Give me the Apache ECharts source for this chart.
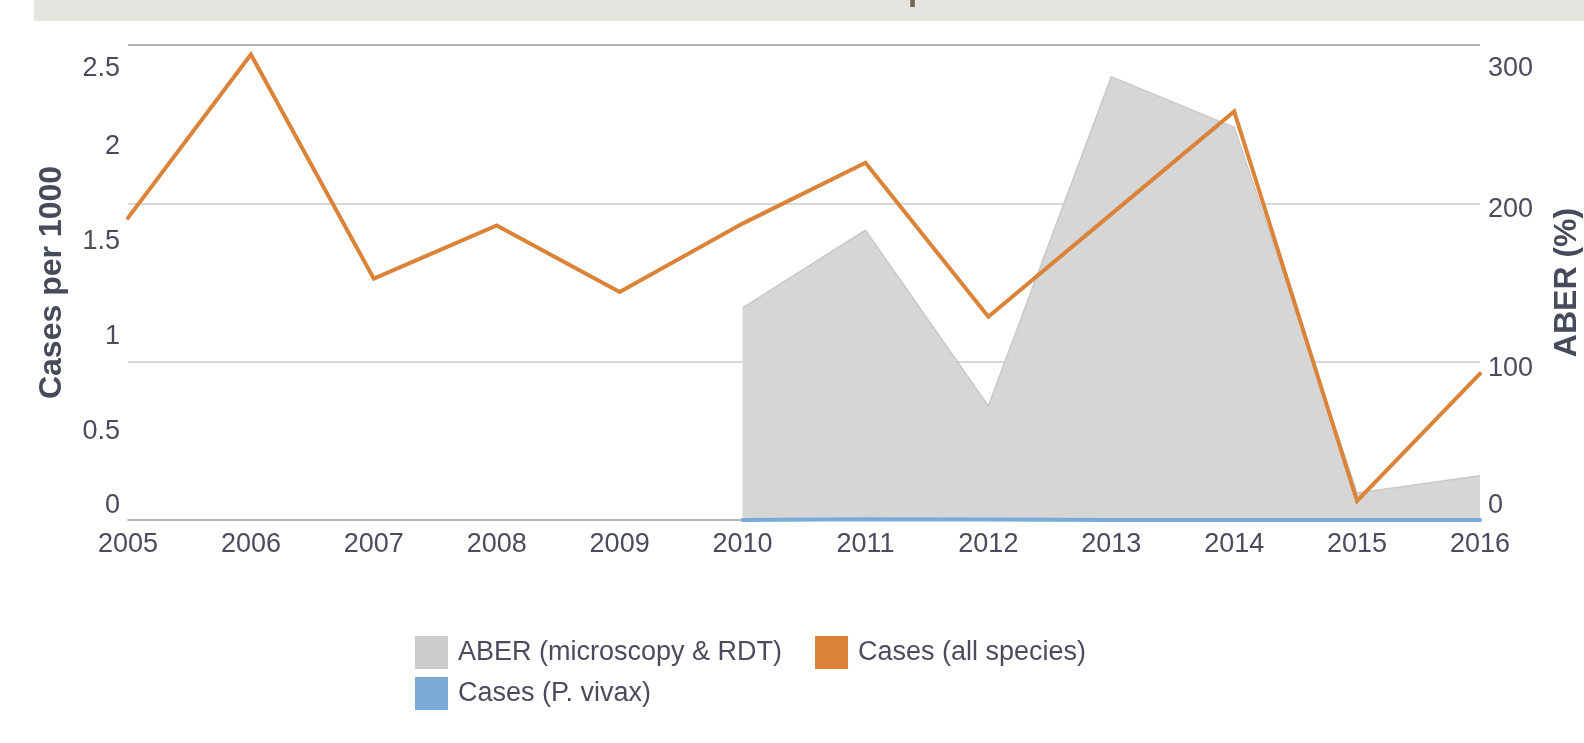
<!DOCTYPE html>
<html>
<head>
<meta charset="utf-8">
<script src="https://cdn.jsdelivr.net/npm/echarts@6/dist/echarts.min.js"></script>
<style>
  html, body { margin: 0; padding: 0; background: #fff; }
  #chart { width: 1584px; height: 743px; }
</style>
</head>
<body>
<div id="chart"></div>
<script>
// years on the x axis
var years = ['2005', '2006', '2007', '2008', '2009', '2010', '2011', '2012', '2013', '2014', '2015', '2016'];
// cases per 1000 (left axis)
var casesAll = [1.59, 2.45, 1.27, 1.55, 1.20, 1.56, 1.88, 1.07, 1.61, 2.15, 0.10, 0.77];
var casesVivax = [null, null, null, null, null, 0, 0.004, 0.002, 0, 0, 0, 0];
// ABER % (right axis)
var aber = [null, null, null, null, null, 134, 183, 72, 280, 248, 17, 28];

var TEXT = '#4a4c5e';
var FONT = '"Liberation Sans", Arial, sans-serif';

var myChart = echarts.init(document.getElementById('chart'));

// tick labels sit a little below their tick, edge labels pulled inside
function tickLabel(min, max) {
    return {
        color: TEXT,
        fontSize: 27,
        verticalAlign: 'top',
        lineHeight: 13,
        verticalAlignMinLabel: 'bottom',
        verticalAlignMaxLabel: 'top',
        formatter: function (v) {
            if (v === min) return '{lo|' + v + '}';
            if (v === max) return '{hi|' + v + '}';
            return '{mid|' + v + '}';
        },
        rich: {
            lo: { color: TEXT, fontSize: 27, lineHeight: 28 },
            mid: { color: TEXT, fontSize: 27, lineHeight: 13 },
            hi: { color: TEXT, fontSize: 27, lineHeight: 48 }
        }
    };
}

myChart.setOption({
    backgroundColor: '#ffffff',
    animation: false,
    textStyle: { fontFamily: FONT },
    graphic: [
        {
            type: 'rect',
            shape: { x: 34, y: 0, width: 1550, height: 21 },
            style: { fill: '#e4e3de' },
            z: 0
        },
        {
            type: 'text',
            x: 775,
            y: 7,
            style: {
                text: 'Confirmed malaria cases per 1000',
                fill: '#6b6b55',
                font: 'bold 33px ' + FONT,
                textAlign: 'center',
                textVerticalAlign: 'bottom'
            },
            z: 1
        }
    ],
    grid: {
        left: 128,
        right: 104,
        top: 45,
        bottom: 223,
        outerBoundsMode: 'none',
        containLabel: false
    },
    legend: [
        {
            data: ['ABER (microscopy & RDT)', 'Cases (all species)'],
            left: 410,
            top: 631,
            orient: 'horizontal',
            icon: 'rect',
            itemWidth: 33,
            itemHeight: 33,
            itemGap: 33,
            textStyle: { color: TEXT, fontSize: 27, fontFamily: FONT, padding: [0, 0, 0, 5] }
        },
        {
            data: ['Cases (P. vivax)'],
            left: 410,
            top: 672,
            icon: 'rect',
            itemWidth: 33,
            itemHeight: 33,
            textStyle: { color: TEXT, fontSize: 27, fontFamily: FONT, padding: [0, 0, 0, 5] }
        }
    ],
    xAxis: {
        type: 'category',
        data: years,
        boundaryGap: false,
        axisLine: { lineStyle: { color: '#b5b5b5', width: 2 } },
        axisTick: { show: false },
        axisLabel: { color: TEXT, fontSize: 27, margin: 11, interval: 0 }
    },
    yAxis: [
        {
            type: 'value',
            min: 0,
            max: 2.5,
            interval: 0.5,
            name: 'Cases per 1000',
            nameLocation: 'middle',
            nameGap: 60,
            nameTextStyle: { color: '#474a5a', fontSize: 32, fontWeight: 'bold' },
            axisLine: { show: false },
            axisTick: { show: false },
            splitLine: { show: false },
            axisLabel: tickLabel(0, 2.5)
        },
        {
            type: 'value',
            min: 0,
            max: 300,
            interval: 100,
            position: 'right',
            name: 'ABER (%)',
            nameLocation: 'middle',
            nameGap: 71,
            nameTextStyle: { color: '#474a5a', fontSize: 32, fontWeight: 'bold' },
            axisLine: { show: false },
            axisTick: { show: false },
            splitLine: {
                show: true,
                lineStyle: { color: ['#d9d9d9', '#d9d9d9', '#d9d9d9', '#b3b3b3'], width: 2 }
            },
            axisLabel: tickLabel(0, 300)
        }
    ],
    series: [
        {
            name: 'ABER (microscopy & RDT)',
            type: 'line',
            yAxisIndex: 1,
            data: aber,
            color: '#cccccc',
            symbol: 'none',
            lineStyle: { color: '#c9c9c9', width: 1.5 },
            areaStyle: { color: '#d6d6d6', opacity: 1 },
            z: 1
        },
        {
            name: 'Cases (P. vivax)',
            type: 'line',
            yAxisIndex: 0,
            data: casesVivax,
            color: '#7aaad6',
            symbol: 'none',
            lineStyle: { color: '#7aaad6', width: 4, cap: 'round' },
            z: 3
        },
        {
            name: 'Cases (all species)',
            type: 'line',
            yAxisIndex: 0,
            data: casesAll,
            color: '#db8338',
            symbol: 'none',
            lineStyle: { color: '#db8338', width: 4, join: 'miter', cap: 'round' },
            z: 4
        }
    ]
});
</script>
</body>
</html>
